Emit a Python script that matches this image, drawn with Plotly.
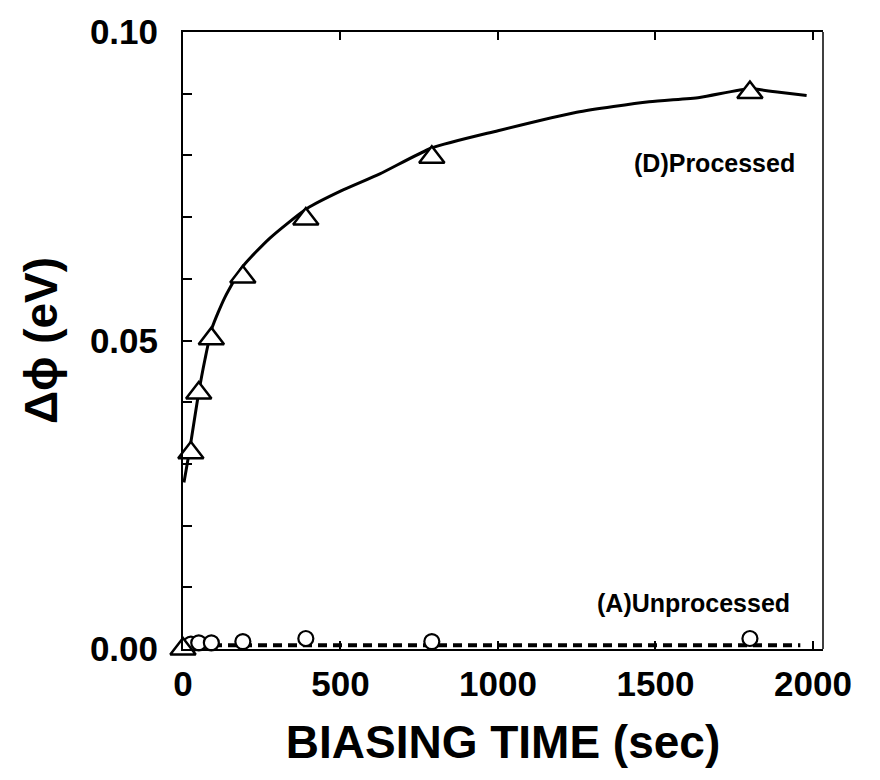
import plotly.graph_objects as go

# Processed sample (D): measured points and fitted curve
t_proc = [0, 25, 50, 90, 190, 390, 790, 1800]
dphi_proc = [0.0, 0.0318, 0.0415, 0.0503, 0.0603, 0.0697, 0.0797, 0.0902]

t_proc_fit = [3, 10, 25, 48, 70, 92, 133, 190, 276, 394, 500, 625, 790,
              1000, 1250, 1480, 1640, 1800, 1880, 1980]
dphi_proc_fit = [0.027, 0.029, 0.0335, 0.041, 0.0470, 0.0520, 0.0570, 0.0620,
                 0.0666, 0.0714, 0.0742, 0.0770, 0.0812, 0.0840, 0.0870,
                 0.0887, 0.0894, 0.0908, 0.0903, 0.0897]

# Unprocessed sample (A): measured points and flat fit
t_unproc = [25, 50, 90, 190, 390, 790, 1800]
dphi_unproc = [0.0008, 0.001, 0.001, 0.0012, 0.0017, 0.0012, 0.0017]

t_unproc_fit = [0, 1960]
dphi_unproc_fit = [0.0006, 0.0006]

x_ticks = [0, 500, 1000, 1500, 2000]
y_ticks = [0.0, 0.05, 0.10]
y_tick_text = ["0.00", "0.05", "0.10"]

FONT = "Liberation Sans, Arial, Helvetica, sans-serif"

fig = go.Figure()

fig.add_trace(go.Scatter(
    x=t_unproc_fit, y=dphi_unproc_fit, mode="lines",
    line=dict(color="black", width=4, dash="9px,6px"),
    hoverinfo="skip", showlegend=False,
))
fig.add_trace(go.Scatter(
    x=t_proc_fit, y=dphi_proc_fit, mode="lines",
    line=dict(color="black", width=3, shape="spline", smoothing=0.6),
    hoverinfo="skip", showlegend=False,
))
fig.add_trace(go.Scatter(
    x=t_unproc, y=dphi_unproc, mode="markers",
    marker=dict(symbol="circle", size=15, color="white",
                line=dict(color="black", width=2.2)),
    cliponaxis=False, showlegend=False,
))
fig.add_trace(go.Scatter(
    x=t_proc, y=dphi_proc, mode="markers",
    marker=dict(symbol="triangle-up", size=22, color="white",
                line=dict(color="black", width=2.5)),
    cliponaxis=False, showlegend=False,
))

fig.add_annotation(x=1950, y=0.0788, xref="x", yref="y", text="(D)Processed",
                   showarrow=False, xanchor="right", yanchor="middle",
                   font=dict(family=FONT, size=25, color="black", weight="bold"))
fig.add_annotation(x=1933, y=0.0074, xref="x", yref="y", text="(A)Unprocessed",
                   showarrow=False, xanchor="right", yanchor="middle",
                   font=dict(family=FONT, size=25, color="black", weight="bold"))

# thin right-hand frame edge
fig.add_shape(type="line", xref="paper", yref="paper", x0=1, x1=1, y0=0, y1=1,
              line=dict(color="black", width=1.5))

fig.update_layout(
    width=880, height=780,
    margin=dict(l=183, r=57, t=29, b=131),
    paper_bgcolor="white", plot_bgcolor="white",
    font=dict(family=FONT, color="black", weight="bold"),
    showlegend=False,
)

fig.update_xaxes(
    range=[0, 2032], tickvals=x_ticks, ticktext=[str(v) for v in x_ticks],
    showgrid=False, zeroline=False,
    showline=True, linecolor="black", linewidth=2, mirror="ticks",
    ticks="inside", ticklen=8, tickwidth=2, tickcolor="black",
    tickfont=dict(family=FONT, size=35, color="black", weight="bold"),
    ticklabelstandoff=3,
    title=dict(text="BIASING TIME (sec)", standoff=24,
               font=dict(family=FONT, size=46, color="black", weight="bold")),
)
fig.update_yaxes(
    range=[0, 0.1], tickvals=y_ticks, ticktext=y_tick_text,
    showgrid=False, zeroline=False,
    showline=True, linecolor="black", linewidth=2, mirror=False,
    ticks="inside", ticklen=9, tickwidth=2, tickcolor="black",
    minor=dict(dtick=0.01, ticks="inside", ticklen=9, tickwidth=2,
               tickcolor="black", showgrid=False),
    tickfont=dict(family=FONT, size=35, color="black", weight="bold"),
    ticklabelstandoff=16,
    title=dict(text="Δϕ (eV)", standoff=18,
               font=dict(family=FONT, size=46, color="black", weight="bold")),
)

fig.write_html("out.html")
